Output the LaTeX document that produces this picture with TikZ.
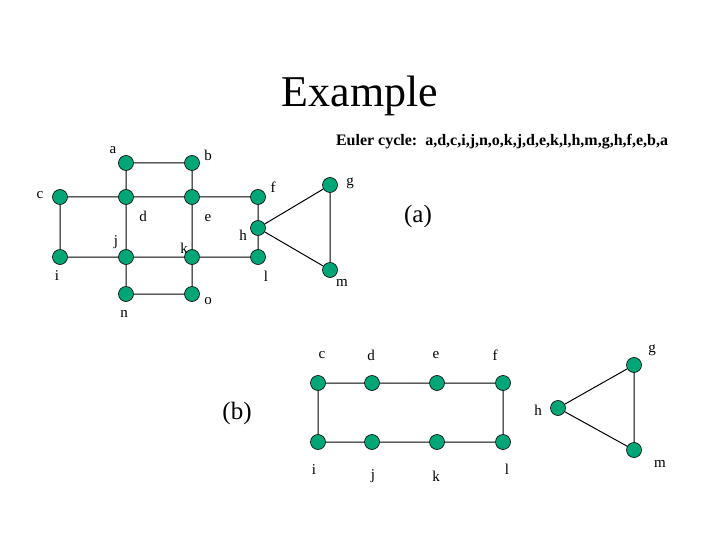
\documentclass[tikz,border=0pt]{standalone}
\usepackage{fontspec}
\setmainfont{Liberation Serif}
\begin{document}
\begin{tikzpicture}[x=1pt,y=-1pt,
  vtx/.style={circle,draw=black,fill={rgb,255:red,0;green,166;blue,118},minimum size=15pt,inner sep=0pt,line width=0.6pt},
  lbl/.style={font=\fontsize{15}{15}\selectfont,inner sep=0pt},
  edge/.style={line width=1pt,draw=black}]
\useasboundingbox (0,0) rectangle (720,540);
\node[font=\fontsize{44}{44}\selectfont] (title) at (360,96) {Example};
\node[font=\bfseries\fontsize{16}{16}\selectfont] (euler) at (502,142) {Euler cycle:\ \ a,d,c,i,j,n,o,k,j,d,e,k,l,h,m,g,h,f,e,b,a};
\node[font=\fontsize{25}{25}\selectfont] (pa) at (418,216) {(a)};
\node[font=\fontsize{25}{25}\selectfont] (pb) at (237,413) {(b)};
% top graph
\foreach \n/\x/\y in {a/126/163,b/192/163,c/60/197,d/126/197,e/192/197,f/258/197,g/330/185,h/258/228,i/60/257,j/126/257,k/192/257,l/258/257,m/330/270,n/126/294,o/192/294}
  \node[vtx] (\n) at (\x,\y) {};
\foreach \n/\x/\y in {a/113/150,b/208/155,c/40/195,d/143/216,e/208/218,f/273/187,g/350/183,h/243/235,j/116/242,k/184/248,i/57/276,l/266/276,m/342/283,n/124/314,o/208/301}
  \node[lbl] (t\n) at (\x,\y) {\n};
\draw[edge] (a)--(b) (a)--(d) (b)--(e) (c)--(d) (d)--(e) (e)--(f) (c)--(i) (d)--(j) (e)--(k) (f)--(h) (h)--(l)
  (i)--(j) (j)--(k) (k)--(l) (j)--(n) (k)--(o) (n)--(o) (h)--(g) (g)--(m) (h)--(m);
% bottom graph
\foreach \n/\x/\y in {c/318/383,d/372/383,e/437/383,f/503/383,i/318/442,j/372/442,k/437/442,l/503/442,h/558/408,g/634/365,m/634/450}
  \node[vtx] (B\n) at (\x,\y) {};
\foreach \n/\x/\y in {c/322/355,d/371/355,e/436/355,f/495/355,g/652/350,h/538/410,i/314/470,j/373/476,k/436/476,l/507/469,m/660/464}
  \node[lbl] (Bt\n) at (\x,\y) {\n};
\draw[edge] (Bc)--(Bd)--(Be)--(Bf)--(Bl)--(Bk)--(Bj)--(Bi)--(Bc) (Bh)--(Bg)--(Bm)--(Bh);
\end{tikzpicture}
\end{document}
